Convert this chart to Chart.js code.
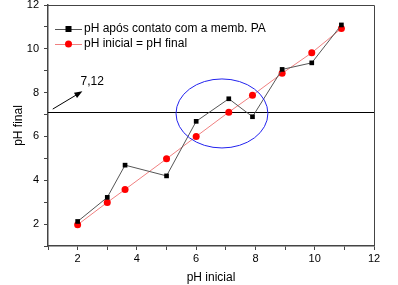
<!DOCTYPE html>
<html><head><meta charset="utf-8">
<script src="https://cdn.jsdelivr.net/npm/chart.js@4"></script>
<style>html,body{margin:0;padding:0;background:#fff;}#c{display:block;}</style>
</head><body>
<canvas id="c" width="398" height="285"></canvas>
<script>
const xMembrana = [2, 3, 3.6, 5, 6, 7.1, 7.9, 8.9, 9.9, 10.9];
const yMembrana = [2.12, 3.22, 4.69, 4.2, 6.69, 7.72, 6.9, 9.06, 9.36, 11.09];
const xInicial = [2, 3, 3.6, 5, 6, 7.1, 7.9, 8.9, 9.9, 10.9];
const yInicial = [1.97, 2.99, 3.58, 4.98, 6.0, 7.11, 7.88, 8.88, 9.82, 10.93];
const seriesNames = ['pH após contato com a memb. PA', 'pH inicial = pH final'];
const refValue = 7.12;
const refLabel = '7,12';
const arrowFrom = [1.16, 7.25];
const arrowTo = [2.16, 8.06];
const labelAt = [2.1, 8.5];
const ellipseCenter = [6.87, 7.05];
const ellipseRadii = [1.55, 1.575];
const axisMin = 1, axisMax = 12;
const labeledTicks = [2, 4, 6, 8, 10, 12];

const toPts = (xs, ys) => xs.map((x, i) => ({x, y: ys[i]}));
const FONT = '"Liberation Sans", Arial, sans-serif';

const overlay = {
  id: 'overlay',
  beforeDatasetsDraw(chart) {
    const {ctx, chartArea: a, scales: {x, y}} = chart;
    ctx.save();
    const yr = Math.round(y.getPixelForValue(refValue)) + 0.5;
    ctx.strokeStyle = '#000'; ctx.lineWidth = 1;
    ctx.beginPath(); ctx.moveTo(a.left, yr); ctx.lineTo(a.right, yr); ctx.stroke();
    ctx.restore();
  },
  afterDatasetsDraw(chart) {
    const {ctx, chartArea: a, scales: {x, y}} = chart;
    ctx.save();
    ctx.strokeStyle = '#444'; ctx.lineWidth = 1;
    ctx.beginPath();
    ctx.moveTo(a.left, a.top + 0.5); ctx.lineTo(a.right + 0.5, a.top + 0.5); ctx.lineTo(a.right + 0.5, a.bottom);
    ctx.stroke();
    const cx = x.getPixelForValue(ellipseCenter[0]), cy = y.getPixelForValue(ellipseCenter[1]);
    const rx = Math.abs(x.getPixelForValue(ellipseCenter[0] + ellipseRadii[0]) - cx);
    const ry = Math.abs(y.getPixelForValue(ellipseCenter[1] + ellipseRadii[1]) - cy);
    ctx.strokeStyle = '#2222ee'; ctx.lineWidth = 1;
    ctx.beginPath(); ctx.ellipse(cx, cy, rx, ry, 0, 0, Math.PI * 2); ctx.stroke();
    const x1 = x.getPixelForValue(arrowFrom[0]), y1 = y.getPixelForValue(arrowFrom[1]);
    const x2 = x.getPixelForValue(arrowTo[0]), y2 = y.getPixelForValue(arrowTo[1]);
    ctx.strokeStyle = '#000'; ctx.fillStyle = '#000'; ctx.lineWidth = 1;
    const ang = Math.atan2(y2 - y1, x2 - x1);
    ctx.beginPath(); ctx.moveTo(x1, y1); ctx.lineTo(x2 - 5 * Math.cos(ang), y2 - 5 * Math.sin(ang)); ctx.stroke();
    ctx.beginPath();
    ctx.moveTo(x2, y2);
    ctx.lineTo(x2 - 8 * Math.cos(ang) + 3 * Math.sin(ang), y2 - 8 * Math.sin(ang) - 3 * Math.cos(ang));
    ctx.lineTo(x2 - 8 * Math.cos(ang) - 3 * Math.sin(ang), y2 - 8 * Math.sin(ang) + 3 * Math.cos(ang));
    ctx.closePath(); ctx.fill();
    ctx.font = '12px ' + FONT; ctx.textBaseline = 'middle'; ctx.textAlign = 'left';
    ctx.fillText(refLabel, x.getPixelForValue(labelAt[0]), y.getPixelForValue(labelAt[1]));
    const ds = chart.data.datasets;
    const lx = a.left + 7, lw = 27;
    [29, 44].forEach((ly, i) => {
      const d = ds[i];
      ctx.strokeStyle = d.borderColor; ctx.lineWidth = 1;
      ctx.beginPath(); ctx.moveTo(lx, ly + 0.5); ctx.lineTo(lx + lw, ly + 0.5); ctx.stroke();
      ctx.fillStyle = d.pointBackgroundColor;
      const mx = lx + lw / 2;
      if (d.pointStyle === 'rect') { ctx.fillRect(mx - 3, ly - 3, 6, 6); }
      else { ctx.beginPath(); ctx.arc(mx, ly, 3.5, 0, Math.PI * 2); ctx.fill(); }
      ctx.fillStyle = '#000'; ctx.font = '12px ' + FONT; ctx.textAlign = 'left'; ctx.textBaseline = 'middle';
      ctx.fillText(d.label, lx + lw + 2, ly);
    });
    ctx.restore();
  }
};

const tickCb = v => labeledTicks.includes(v) ? String(v) : '';
const axisCommon = {
  type: 'linear', min: axisMin, max: axisMax,
  ticks: { stepSize: 1, autoSkip: false, callback: tickCb, color: '#000', font: {family: FONT, size: 11}, padding: 2, maxRotation: 0 },
  grid: { drawOnChartArea: false, drawTicks: true, tickLength: 4, color: '#444' },
  border: { display: true, color: '#444', width: 1.5 },
  title: { display: true, color: '#000', font: {family: FONT, size: 12} }
};

new Chart(document.getElementById('c'), {
  type: 'scatter',
  data: {
    datasets: [
      { label: seriesNames[0], data: toPts(xMembrana, yMembrana), showLine: true,
        borderColor: '#555', borderWidth: 1, pointStyle: 'rect', pointRadius: 3.3,
        pointBackgroundColor: '#000', pointBorderColor: '#000', pointBorderWidth: 0 },
      { label: seriesNames[1], data: toPts(xInicial, yInicial), showLine: true,
        borderColor: '#f08080', borderWidth: 1, pointStyle: 'circle', pointRadius: 3.5,
        pointBackgroundColor: '#ff0000', pointBorderColor: '#ff0000', pointBorderWidth: 0 }
    ]
  },
  options: {
    responsive: false, animation: false, devicePixelRatio: 1,
    layout: { padding: { top: 5, right: 24, left: 0, bottom: 0 } },
    plugins: { legend: { display: false }, tooltip: { enabled: false } },
    scales: {
      x: { ...axisCommon, title: { ...axisCommon.title, text: 'pH inicial', padding: {top: 6, bottom: 0} },
           afterFit(s) { s.height = 39; s.paddingLeft = 0; s.paddingRight = 0; } },
      y: { ...axisCommon, ticks: { ...axisCommon.ticks, padding: 5 },
           title: { ...axisCommon.title, text: 'pH final', padding: {top: 11, bottom: 0} },
           afterFit(s) { s.width = 48; s.paddingTop = 0; s.paddingBottom = 0; } }
    }
  },
  plugins: [overlay]
});
</script>
</body></html>
